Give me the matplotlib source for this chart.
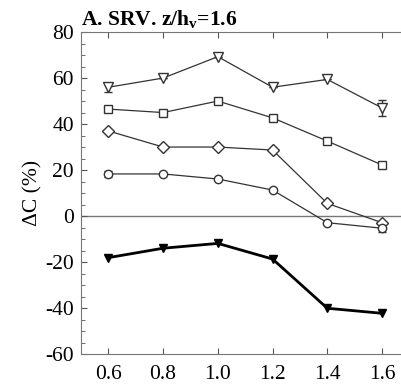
import numpy as np
import matplotlib
matplotlib.use("Agg")
import matplotlib.pyplot as plt
from matplotlib.ticker import MultipleLocator

plt.rcParams['font.family'] = ['Liberation Serif', 'DejaVu Serif']
plt.rcParams['mathtext.fontset'] = 'custom'
plt.rcParams['mathtext.rm'] = 'Liberation Serif'
plt.rcParams['mathtext.bf'] = 'Liberation Serif:bold'
plt.rcParams['axes.unicode_minus'] = False

x = [0.6, 0.8, 1.0, 1.2, 1.4, 1.6]

tri_open = [56, 60, 69.3, 56, 59.4, 47]
tri_open_err = [2, 0, 0, 0, 0, 3.5]
squares = [46.5, 45, 50, 42.7, 32.6, 22.2]
diamonds = [37, 30, 30, 28.7, 5.5, -2.9]
circles = [18.3, 18.3, 16.1, 11.3, -2.9, -5.3]
circles_err = [1.3, 0, 0, 0, 0, 1.5]
tri_filled = [-18.1, -14, -11.9, -18.7, -40.1, -42.3]

fig = plt.figure(figsize=(4.01, 3.91), dpi=100)
ax = fig.add_axes([0.202, 0.0946, 0.819, 0.8234])

line_kw = dict(color='#333333', lw=0.9, mfc='white', mec='#333333', mew=1.0,
               capsize=3, elinewidth=1.0, ecolor='#333333')
ax.errorbar(x, tri_open, yerr=tri_open_err, marker='v', ms=7.5, **line_kw)
ax.errorbar(x, squares, marker='s', ms=5.8, **line_kw)
ax.errorbar(x, diamonds, marker='D', ms=5.8, **line_kw)
ax.errorbar(x, circles, yerr=circles_err, marker='o', ms=6, **line_kw)
ax.plot(x, tri_filled, marker='v', ms=6, color='black', lw=2.0)

ax.axhline(0, color='#777777', lw=1.0, zorder=0)

ax.set_xlim(0.5, 1.7)
ax.set_ylim(-60, 80)
ax.set_xticks(x)
ax.set_xticklabels(['0.6', '0.8', '1.0', '1.2', '1.4', '1.6'])
ax.yaxis.set_major_locator(MultipleLocator(20))
ax.yaxis.set_minor_locator(MultipleLocator(5))
ax.tick_params(axis='both', which='both', direction='in', colors='#555555',
               labelcolor='black', labelsize=15.5)
ax.tick_params(axis='x', top=True, length=4)
ax.tick_params(axis='y', which='major', length=4, pad=5)
ax.tick_params(axis='y', which='minor', length=3)
ax.tick_params(axis='x', pad=8)
for s in ax.spines.values():
    s.set_color('#777777')

ax.set_ylabel('ΔC (%)', fontsize=15.5, labelpad=2)
ax.set_title(r'A. SRV. z/h$_\mathbf{v}$=1.6', fontsize=15.5, fontweight='bold',
             loc='left', pad=5)

fig.savefig('out.png', dpi=100)
